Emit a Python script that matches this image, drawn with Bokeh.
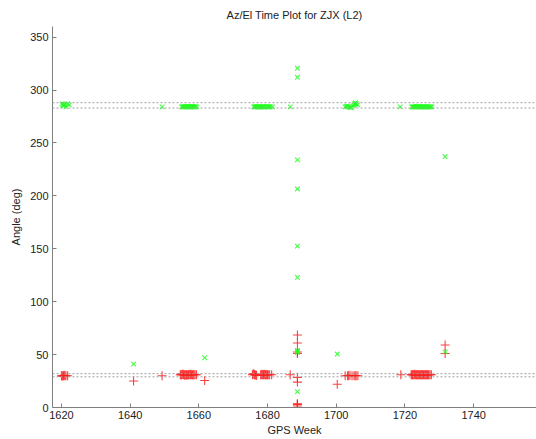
from bokeh.plotting import figure
from bokeh.models import Span, FixedTicker, Range1d
from bokeh.embed import file_html
from bokeh.resources import INLINE

# Elevation (red +)
el_weeks = [1620.0, 1620.2, 1620.4, 1620.6, 1620.8, 1621.0, 1621.3, 1621.8,
            1641.0, 1649.3,
            1654.6, 1654.8, 1655.0, 1655.2, 1655.4, 1655.6, 1655.8, 1656.0, 1656.2, 1656.4, 1656.6, 1656.8,
            1657.0, 1657.2, 1657.4, 1657.6, 1657.8, 1658.0, 1658.2, 1658.4, 1658.6, 1658.9, 1659.3,
            1661.7,
            1675.6, 1675.8, 1676.0, 1676.2, 1676.4, 1676.6, 1676.8,
            1678.0, 1678.2, 1678.4, 1678.6, 1678.8, 1679.0, 1679.2, 1679.4, 1679.6, 1679.8, 1680.0, 1680.2, 1680.6, 1681.2,
            1686.6,
            1688.7, 1688.7, 1688.7, 1688.7, 1688.7, 1688.7, 1688.7, 1688.7, 1688.7, 1688.7,
            1700.3,
            1702.6, 1703.3, 1703.6, 1704.0, 1704.6, 1705.2, 1705.5, 1705.8, 1706.3,
            1718.8,
            1721.8, 1722.0, 1722.2, 1722.4, 1722.6, 1722.8, 1723.0, 1723.2, 1723.4, 1723.6, 1723.8, 1724.0,
            1724.2, 1724.4, 1724.6, 1724.8, 1725.0, 1725.2, 1725.4, 1725.6, 1725.8, 1726.0, 1726.2, 1726.4,
            1726.6, 1726.8, 1727.0, 1727.3, 1727.7,
            1731.7, 1731.7]
el_vals = [30, 29.5, 30, 30, 30.5, 30, 30, 30,
           25, 30,
           31, 31, 31, 31.5, 31.5, 31, 31, 30.5, 31, 31, 30.5, 31,
           31, 31.5, 31, 31, 31.5, 31, 31, 31, 31, 31, 31,
           25.5,
           31, 31.5, 32, 31, 31, 30.5, 30.5,
           31, 31, 31.5, 31, 31, 31.5, 31, 31, 31, 31, 31, 31, 31, 31,
           31,
           68.5, 61, 52.5, 51, 28.5, 24, 3.5, 3, 2.5, 0.5,
           22,
           30, 30, 30, 30.5, 30, 30, 30, 30, 30,
           31,
           31, 31, 31, 31, 31, 31.5, 31, 31, 31, 31, 31, 31,
           31, 31, 31, 31, 31, 31, 31, 31, 31, 31, 31, 31,
           31, 31, 31, 31, 31,
           59, 51]

# Azimuth (green x)
az_weeks = [1620.2, 1620.4, 1620.6, 1620.8, 1621.0, 1621.3, 1621.8, 1622.3,
            1641.0, 1649.3,
            1655.0, 1655.2, 1655.4, 1655.6, 1655.8, 1656.0, 1656.2, 1656.4, 1656.6, 1656.8, 1657.0, 1657.2,
            1657.4, 1657.6, 1657.8, 1658.0, 1658.2, 1658.4, 1658.6, 1658.8, 1659.0, 1659.4,
            1661.7,
            1676.0, 1676.2, 1676.4, 1676.6, 1676.8, 1677.0, 1677.2, 1677.4, 1677.6, 1677.8, 1678.0, 1678.2,
            1678.4, 1678.6, 1678.8, 1679.0, 1679.2, 1679.6, 1680.0, 1680.2, 1680.4, 1680.6, 1680.8, 1681.4,
            1686.6,
            1688.7, 1688.7, 1688.7, 1688.7, 1688.7, 1688.7, 1688.7, 1688.7, 1688.7, 1688.7,
            1700.3,
            1702.6, 1702.9, 1703.2, 1703.5, 1703.8, 1704.1, 1704.4, 1705.0, 1705.2, 1705.4, 1705.6, 1705.8, 1706.2,
            1718.6,
            1722.0, 1722.2, 1722.4, 1722.6, 1722.8, 1723.0, 1723.2, 1723.4, 1723.6, 1723.8, 1724.0, 1724.2,
            1724.4, 1724.6, 1724.8, 1725.0, 1725.2, 1725.4, 1725.6, 1725.8, 1726.0, 1726.2, 1726.4, 1726.6,
            1726.8, 1727.0, 1727.2, 1727.5, 1727.8,
            1731.7, 1731.7]
az_vals = [287, 286, 285, 286, 286.5, 284, 287, 286,
           41, 284,
           284, 284, 284, 284, 284, 284.5, 284.5, 284, 284, 284, 284, 284,
           284, 284, 284, 284.5, 284.5, 284, 284, 284, 284, 284,
           47,
           284, 284, 284, 284, 284.5, 284, 284, 284, 284, 284, 284, 284,
           284, 284, 284, 284, 284, 284.5, 284, 284, 284, 284, 284, 284,
           284,
           320.5, 312, 234, 206.5, 152.5, 123, 54, 53, 52, 15,
           50.5,
           284, 284.5, 285, 284, 284, 283.5, 283.5, 285, 286, 287, 288, 287, 286,
           284,
           284, 284, 284, 284, 284, 284, 284, 284, 284.5, 284.5, 284, 284,
           284, 284, 284, 284, 284, 284, 284, 284, 284, 284, 284, 284,
           284, 284, 284, 284, 284,
           237, 52.5]

ref_levels = [283, 288, 29, 32]
x_ticks = [1620, 1640, 1660, 1680, 1700, 1720, 1740]
y_ticks = [0, 50, 100, 150, 200, 250, 300, 350]

FONT = "Liberation Sans"

p = figure(width=536, height=439, output_backend="svg", toolbar_location=None,
           x_range=Range1d(1617.4, 1758.3), y_range=Range1d(0, 360),
           min_border_left=52, min_border_right=0, min_border_top=0, min_border_bottom=32,
           title="Az/El Time Plot for ZJX (L2)")
p.outline_line_color = None
p.background_fill_color = "white"
p.border_fill_color = "white"
p.grid.visible = False

p.title.text_font = FONT
p.title.text_font_size = "11px"
p.title.text_font_style = "normal"
p.title.text_color = "#222222"
p.title.align = "center"
p.title.offset = -8
p.title.standoff = 12

for ax in (p.xaxis[0], p.yaxis[0]):
    ax.axis_line_color = "#7f7f7f"
    ax.major_tick_line_color = "#7f7f7f"
    ax.major_tick_in = 4
    ax.major_tick_out = 0
    ax.minor_tick_line_color = None
    ax.major_label_text_font = FONT
    ax.major_label_text_font_size = "11px"
    ax.major_label_text_color = "#222222"
    ax.axis_label_text_font = FONT
    ax.axis_label_text_font_size = "11px"
    ax.axis_label_text_font_style = "normal"
    ax.axis_label_text_color = "#222222"

p.xaxis.ticker = FixedTicker(ticks=x_ticks)
p.yaxis.ticker = FixedTicker(ticks=y_ticks)
p.xaxis.axis_label = "GPS Week"
p.yaxis.axis_label = "Angle (deg)"
p.xaxis.major_label_standoff = 3
p.xaxis.axis_label_standoff = 2
p.yaxis.major_label_standoff = 4
p.yaxis.axis_label_standoff = 5

for lv in ref_levels:
    p.add_layout(Span(location=lv, dimension="width", line_color="#a0a0a0",
                      line_dash="2 2", line_width=1))

p.scatter(el_weeks, el_vals, marker="cross", size=9, line_color="#ff2020", line_width=1.1, line_alpha=0.85)
p.scatter(az_weeks, az_vals, marker="x", size=6.5, line_color="#20ff20", line_width=1.1, line_alpha=0.85)

open("out.html", "w").write(file_html(p, INLINE))
